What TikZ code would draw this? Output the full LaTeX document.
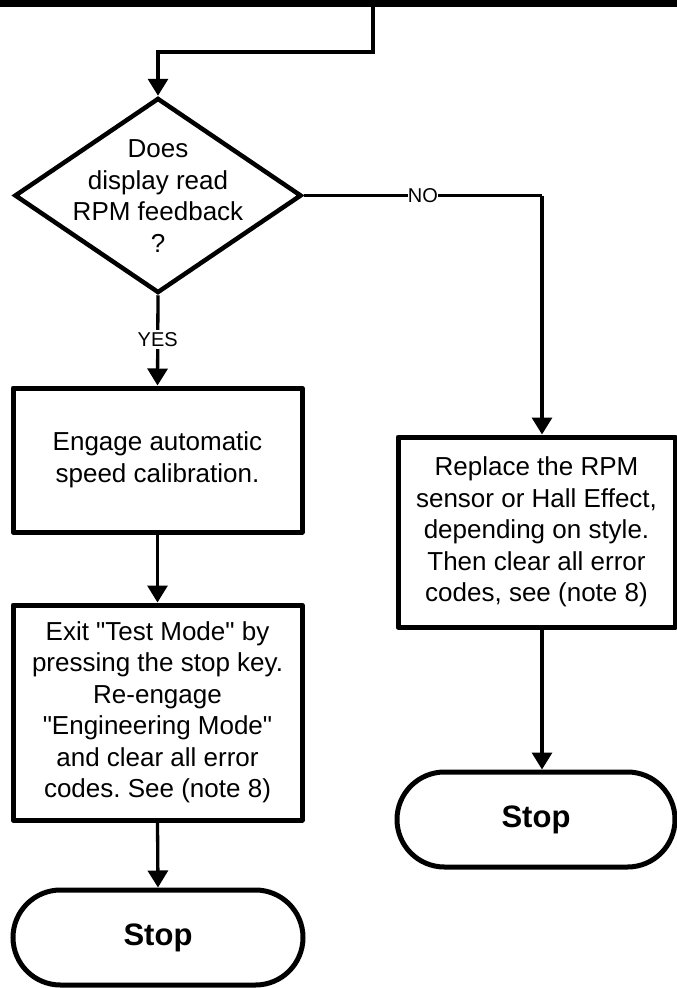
\documentclass[tikz,border=0pt]{standalone}
\usepackage{fontspec}
\newfontfamily\lsans{Liberation Sans}
\usetikzlibrary{shapes.geometric,shapes.misc,arrows.meta}
\begin{document}
\frenchspacing
\begin{tikzpicture}[x=1pt,y=-1pt,
  conn/.style={line width=3.3pt},
  arr/.style={conn,-{Triangle[length=17pt,width=20pt]}},
  procbox/.style={draw,line width=5pt,line join=round,rectangle,inner sep=0pt,align=center,
    font=\lsans\fontsize{26}{31.5}\selectfont},
  decis/.style={draw,line width=4.5pt,diamond,inner sep=0pt,minimum width=287pt,minimum height=195pt},
  dectext/.style={align=center,inner sep=0pt,font=\lsans\fontsize{26}{31.5}\selectfont},
  term/.style={draw,line width=5pt,rounded rectangle,inner sep=0pt,minimum height=95pt,
    font=\lsans\fontsize{31}{37}\selectfont\bfseries},
  lab/.style={fill=white,inner xsep=0pt,inner ysep=2pt,font=\lsans\fontsize{20}{24}\selectfont}]
\useasboundingbox (0,0) rectangle (677,988);
% top bus
\coordinate (busL) at (0,3.5);
\coordinate (busR) at (677,3.5);
\draw[line width=7pt] (busL) -- (busR);
\coordinate (tap) at (373,6);
\coordinate (tapturn) at (373,52);
% nodes
\node[decis] (dia) at (158,195.5) {};
\node[dectext] (diatext) at (158,196) {Does\\display read\\RPM feedback\\?};
\node[procbox,minimum width=289pt,minimum height=144pt] (box1) at (157.5,460)
  {Engage automatic\\speed calibration.};
\node[procbox,minimum width=289pt,minimum height=215pt] (box2) at (157.5,712.5)
  {Exit "Test Mode" by\\pressing the stop key.\\Re-engage\\"Engineering Mode"\\and clear all error\\codes. See (note 8)};
\node[procbox,minimum width=277pt,minimum height=190pt] (rbox) at (536.5,532)
  {Replace the RPM\\sensor or Hall Effect,\\depending on style.\\Then clear all error\\codes, see (note 8)};
\node[term,minimum width=290pt] (stop1) at (158,937.5) {Stop};
\node[term,minimum width=278pt] (stop2) at (536,819.5) {Stop};
\coordinate (nocorner) at (542,195.5);
% connectors
\draw[arr] (tap) -- (tapturn) -| (dia.north);
\draw[arr] (dia.south) -- node[lab,pos=0.49]{YES} (box1.north);
\draw[conn] (dia.east) -- node[lab,pos=0.5]{NO} (nocorner);
\draw[arr] (nocorner) -- (nocorner |- rbox.north);
\draw[arr] (box1.south) -- (box2.north);
\draw[arr] (box2.south) -- (stop1.north);
\draw[arr] (rbox.south -| nocorner) -- (stop2.north -| nocorner);
\end{tikzpicture}
\end{document}
